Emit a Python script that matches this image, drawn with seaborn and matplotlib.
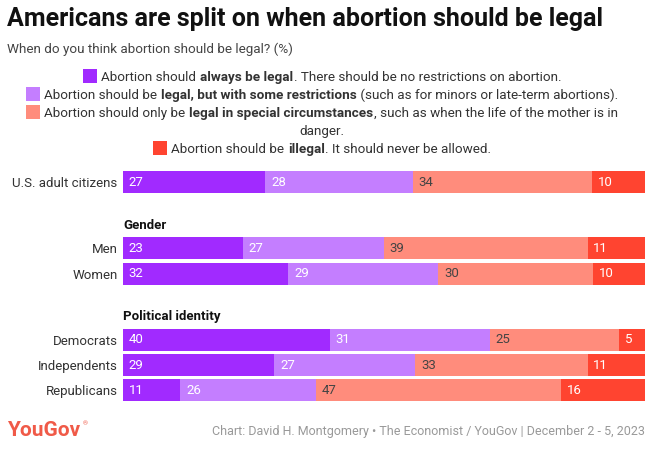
import matplotlib
matplotlib.use("Agg")
import matplotlib.pyplot as plt
from matplotlib.patches import Rectangle
import seaborn as sns

groups = ["U.S. adult citizens", "Men", "Women", "Democrats", "Independents", "Republicans"]
always = [27, 23, 32, 40, 29, 11]
some = [28, 27, 29, 31, 27, 26]
special = [34, 39, 30, 25, 33, 47]
illegal = [10, 11, 10, 5, 11, 16]

colors = ["#A12AFF", "#C47EFF", "#FF8C7C", "#FF4430"]
label_colors = ["white", "white", "#444444", "white"]

# row layout (in row units, top row at 0)
row_pos = [0, 2.62, 3.62, 6.25, 7.25, 8.25]

W, H = 650, 457
sns.set_theme(style="white")
plt.rcParams['font.family'] = ['Roboto', 'DejaVu Sans']

fig = plt.figure(figsize=(W / 100, H / 100), dpi=100)
ax = fig.add_axes([123 / W, 1 - 405 / H, (645 - 123) / W, 240 / H])

# normalise each row to 100 and stack via cumulative layers
series = [always, some, special, illegal]
totals = [sum(v) for v in zip(*series)]
shares = [[100 * v / t for v, t in zip(s, totals)] for s in series]
cum = []
run = [0] * len(groups)
for s in shares:
    run = [r + v for r, v in zip(run, s)]
    cum.append(run)

for i in range(3, -1, -1):
    sns.barplot(x=cum[i], y=row_pos, orient="y", native_scale=True, color=colors[i],
                saturation=1, width=0.87, errorbar=None, linewidth=0, ax=ax)

for i, s in enumerate(series):
    for j, v in enumerate(s):
        start = cum[i][j] - shares[i][j]
        ax.text(start + 1.1, row_pos[j], str(v), va="center", ha="left",
                fontsize=9.5, color=label_colors[i])

ax.set_xlim(0, 100)
ax.set_ylim(8.83, -0.69)
ax.set_yticks(row_pos)
ax.set_yticklabels(groups, fontsize=9.5, color="#333333")
ax.tick_params(axis="y", length=0, pad=4)
ax.set_xticks([])
ax.set_xlabel("")
ax.set_ylabel("")
sns.despine(ax=ax, left=True, bottom=True)

ax.text(0, 1.72, "Gender", fontsize=9.5, fontweight="bold", color="#111111", va="center", ha="left")
ax.text(0, 5.3, "Political identity", fontsize=9.5, fontweight="bold", color="#111111", va="center", ha="left")

# titles
fig.text(7 / W, 1 - 19 / H, "Americans are split on when abortion should be legal",
         fontsize=18, fontweight="bold", color="#111111", va="center", ha="left")
fig.text(7 / W, 1 - 49 / H, "When do you think abortion should be legal? (%)",
         fontsize=9.7, color="#444444", va="center", ha="left")

# legend with mixed bold text
renderer = fig.canvas.get_renderer()
leg_size = 9.7


def text_width(s, bold):
    w = "bold" if bold else "normal"
    t1 = fig.text(0, 0, "|" + s + "|", fontsize=leg_size, fontweight=w)
    t2 = fig.text(0, 0, "||", fontsize=leg_size, fontweight=w)
    d = t1.get_window_extent(renderer).width - t2.get_window_extent(renderer).width
    t1.remove()
    t2.remove()
    return d + (1.2 if bold else 0)


def rich_line(y, parts, sq_color=None, cx=322):
    widths = [text_width(s, b) for s, b in parts]
    sq, gap = 14, 4
    total = sum(widths) + (sq + gap if sq_color else 0)
    x = cx - total / 2
    if sq_color:
        fig.add_artist(Rectangle((x / W, 1 - (y + sq / 2) / H), sq / W, sq / H,
                                 transform=fig.transFigure, color=sq_color, lw=0))
        x += sq + gap
    for (s, b), w in zip(parts, widths):
        fig.text((x + (0.8 if b else 0)) / W, 1 - (y + 5) / H, s, fontsize=leg_size,
                 fontweight="bold" if b else "normal",
                 color="#333333", va="baseline", ha="left")
        x += w


rich_line(76, [("Abortion should ", False), ("always be legal", True),
               (". There should be no restrictions on abortion.", False)], colors[0])
rich_line(94, [("Abortion should be ", False), ("legal, but with some restrictions", True),
               (" (such as for minors or late-term abortions).", False)], colors[1])
rich_line(112, [("Abortion should only be ", False), ("legal in special circumstances", True),
                (", such as when the life of the mother is in", False)], colors[2])
rich_line(130, [("danger.", False)])
rich_line(148, [("Abortion should be ", False), ("illegal", True),
                (". It should never be allowed.", False)], colors[3])

# footer
fig.text(7 / W, 1 - 431 / H, "YouGov", fontsize=15, fontweight="bold", color="#F05A48",
         va="center", ha="left")
fig.text(83 / W, 1 - 424 / H, "\u00ae", fontsize=4.5, color="#F05A48", va="center", ha="left")
fig.text(645 / W, 1 - 432 / H,
         "Chart: David H. Montgomery \u2022 The Economist / YouGov | December 2 - 5, 2023",
         fontsize=9, color="#999999", va="center", ha="right")

fig.savefig("out.png", dpi=100)
